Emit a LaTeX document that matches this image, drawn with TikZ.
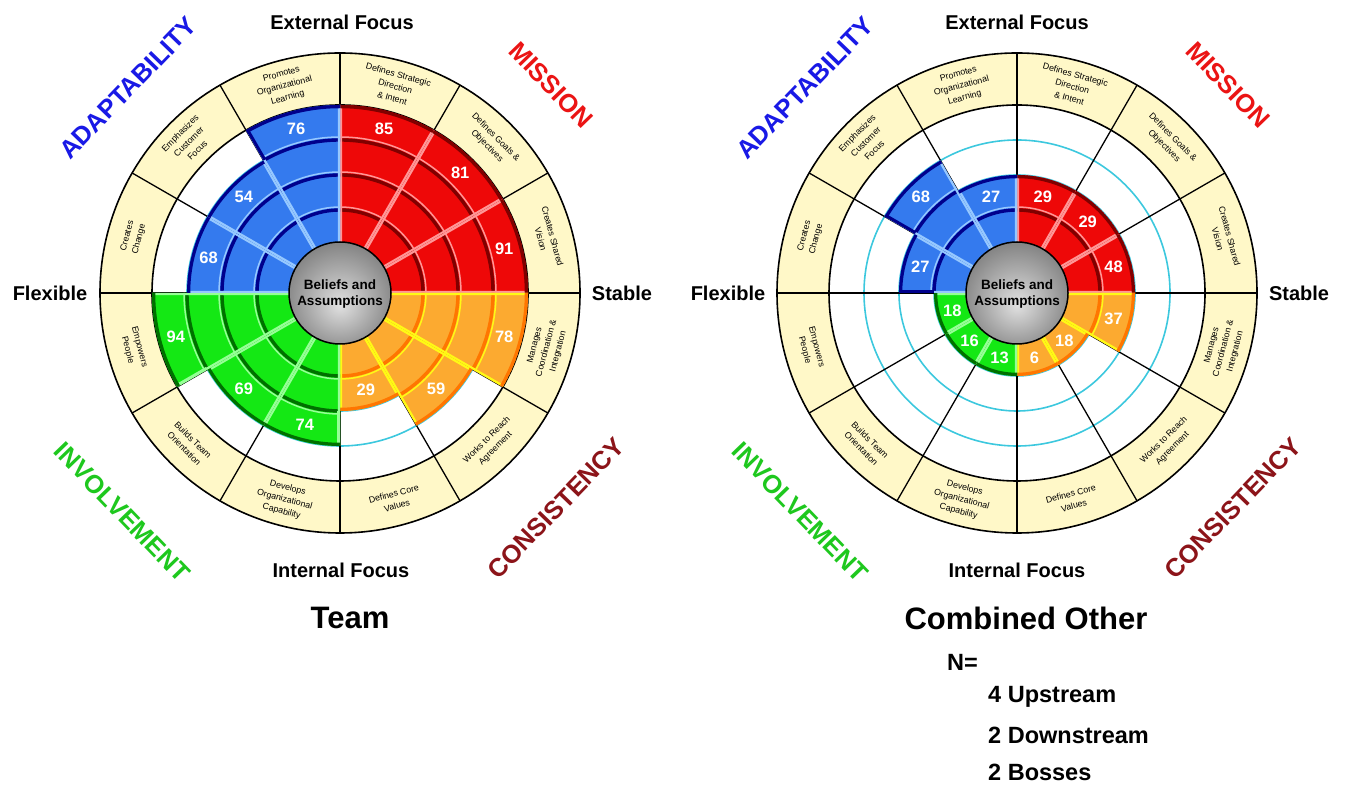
\documentclass[tikz,border=0pt]{standalone}
\usepackage{tikz}
\usepackage{fontspec}
\setmainfont{Liberation Sans}
% quadrant colours: 0 red (Mission), 1 orange (Consistency), 2 green (Involvement), 3 blue (Adaptability)
\definecolor{qf0}{RGB}{238,8,8}
\definecolor{qd0}{RGB}{128,0,0}
\definecolor{ql0}{RGB}{255,150,150}
\definecolor{qf1}{RGB}{252,170,48}
\definecolor{qd1}{RGB}{255,118,0}
\definecolor{ql1}{RGB}{255,250,20}
\definecolor{qf2}{RGB}{20,232,20}
\definecolor{qd2}{RGB}{0,112,0}
\definecolor{ql2}{RGB}{150,255,150}
\definecolor{qf3}{RGB}{52,122,238}
\definecolor{qd3}{RGB}{0,0,140}
\definecolor{ql3}{RGB}{150,200,255}
\colorlet{qe0}{qd0}
\colorlet{qe1}{ql1}
\colorlet{qe2}{ql2}
\colorlet{qe3}{qd3}
\definecolor{cream}{RGB}{255,248,200}
\definecolor{ringcyan}{RGB}{60,200,222}
\definecolor{adaptblue}{RGB}{25,25,230}
\definecolor{missionred}{RGB}{235,20,20}
\definecolor{consistred}{RGB}{140,20,25}
\definecolor{involvgreen}{RGB}{30,200,30}
\definecolor{bgA}{RGB}{225,225,225}
\definecolor{bgB}{RGB}{170,170,170}
\definecolor{bgC}{RGB}{110,110,110}
\definecolor{bgD}{RGB}{55,55,55}
\pgfdeclareradialshading{ballsh}{\pgfpoint{0bp}{-6bp}}{color(0bp)=(bgA); color(16bp)=(bgB); color(34bp)=(bgC); color(50bp)=(bgD)}

\newcommand\denchart[4]{%
\begin{scope}[shift={(#1,#2)}]
  \def\bands{#3}%
  \def\vals{#4}%
  % outer cream ring
  \fill[cream, even odd rule] (0,0) circle[radius=240] (0,0) circle[radius=188];
  % quartile rings
  \foreach \rr in {83,118,153}{\draw[ringcyan, line width=1.6] (0,0) circle[radius=\rr];}
  % radial lines
  \foreach \a in {0,30,...,330}{\draw[black, line width=1.3] (0,0) -- (\a:240);}
  \draw[black, line width=1.6] (0,0) circle[radius=188];
  \draw[black, line width=1.6] (0,0) circle[radius=240];
  % sectors
  \foreach \i in {0,...,11}{
    \pgfmathsetmacro\aone{60-30*\i}
    \pgfmathsetmacro\atwo{90-30*\i}
    \pgfmathtruncatemacro\q{int(\i/3)}
    \pgfmathtruncatemacro\b{\bands[\i]}
    \pgfmathtruncatemacro\iccw{mod(\i+11,12)}
    \pgfmathtruncatemacro\bccw{\bands[\iccw]}
    \pgfmathsetmacro\R{48+35*\b}
    \pgfmathsetmacro\Rp{\R+8}
    \pgfmathsetmacro\Rccw{48+35*\bccw}
    \begin{scope}
      \clip (0,0) -- (\aone:\R) arc[start angle=\aone, end angle=\atwo, radius=\R] -- cycle;
      \fill[fill=qf\q] (0,0) circle[radius=\R];
      \foreach \k in {1,2,3}{
        \ifnum\k<\b
          \draw[draw=qd\q, line width=3.4] (0,0) circle[radius=48+35*\k];
          \draw[draw=ql\q, line width=1.5] (0,0) circle[radius=51+35*\k];
        \fi
      }
      \draw[draw=ql\q, line width=4.4] (0,0) -- (\aone:\Rp) (0,0) -- (\atwo:\Rp);
      \ifnum\bccw<\b
        \draw[draw=qe\q, line width=6] (\atwo:\Rccw) -- (\atwo:\Rp);
      \fi
      \draw[draw=qd\q, line width=6.5] (0,0) circle[radius=\R];
    \end{scope}
  }
  % central ball
  \shade[shading=ballsh] (0,0) circle[radius=51];
  \draw[black, line width=1.5] (0,0) circle[radius=51];
  \node[balltext] (ball#1) at (0,-1) {Beliefs and\\Assumptions};
  % values
  \foreach \i in {0,...,11}{
    \pgfmathtruncatemacro\b{\bands[\i]}
    \pgfmathtruncatemacro\v{\vals[\i]}
    \pgfmathsetmacro\m{75-30*\i}
    \pgfmathsetmacro\rl{{67,100,136,170}[\b-1]}
    \node[numlab] (n#1-\i) at (\m:\rl) {\v};
  }
  % cell texts
  \foreach \m/\t in {75/{Defines Strategic\\Direction\\\& Intent},
                     45/{Defines Goals \&\\Objectives},
                     15/{Creates Shared\\Vision},
                     -15/{Manages\\Coordination \&\\Integration},
                     -45/{Works to Reach\\Agreement},
                     -75/{Defines Core\\Values},
                     -105/{Develops\\Organizational\\Capability},
                     -135/{Builds Team\\Orientation},
                     -165/{Empowers\\People},
                     165/{Creates\\Change},
                     135/{Emphasizes\\Customer\\Focus},
                     105/{Promotes\\Organizational\\Learning}}{
    \pgfmathsetmacro\rot{\m>0 ? \m-90 : \m+90}
    \node[celltext, rotate=\rot] at (\m:214) {\t};
  }
\end{scope}}

\begin{document}
\begin{tikzpicture}[x=1pt, y=1pt,
  numlab/.style={text=white, font=\bfseries\fontsize{16.5}{18}\selectfont, inner sep=0},
  celltext/.style={align=center, font=\fontsize{8.8}{12.2}\selectfont, inner sep=0},
  balltext/.style={align=center, font=\bfseries\fontsize{13.5}{15.5}\selectfont, inner sep=0},
  axislab/.style={font=\bfseries\fontsize{20}{24}\selectfont, inner sep=0},
  catlab/.style={font=\bfseries\fontsize{25.5}{30}\selectfont, inner sep=0},
  titlelab/.style={font=\bfseries\fontsize{31}{36}\selectfont, inner sep=0},
  nlab/.style={font=\bfseries\fontsize{23.5}{28}\selectfont, inner sep=0, anchor=west}]
\useasboundingbox (0,0) rectangle (1348,789);
\fill[white] (0,0) rectangle (1348,789);

% ---------------- left chart: Team ----------------
\denchart{340}{496}{{4,4,4,4,3,2,3,3,4,3,3,4}}{{85,81,91,78,59,29,74,69,94,68,54,76}}
\node[axislab] (ext1) at (342,767) {External Focus};
\node[axislab] (int1) at (341,219) {Internal Focus};
\node[axislab] (flex1) at (50,496) {Flexible};
\node[axislab] (stab1) at (622,496) {Stable};
\node[catlab, text=adaptblue, rotate=46] (ad1) at (128,701) {ADAPTABILITY};
\node[catlab, text=missionred, rotate=-46] (mi1) at (551,704) {MISSION};
\node[catlab, text=consistred, rotate=46] (co1) at (556,281) {CONSISTENCY};
\node[catlab, text=involvgreen, rotate=-46] (in1) at (122,277) {INVOLVEMENT};
\node[titlelab] (team) at (350,171) {Team};

% ---------------- right chart: Combined Other ----------------
\denchart{1017}{496}{{2,2,2,2,1,1,1,1,1,2,3,2}}{{29,29,48,37,18,6,13,16,18,27,68,27}}
\node[axislab] (ext2) at (1017,767) {External Focus};
\node[axislab] (int2) at (1017,219) {Internal Focus};
\node[axislab] (flex2) at (728,496) {Flexible};
\node[axislab] (stab2) at (1299,496) {Stable};
\node[catlab, text=adaptblue, rotate=46] (ad2) at (805,701) {ADAPTABILITY};
\node[catlab, text=missionred, rotate=-46] (mi2) at (1228,704) {MISSION};
\node[catlab, text=consistred, rotate=46] (co2) at (1233,281) {CONSISTENCY};
\node[catlab, text=involvgreen, rotate=-46] (in2) at (800,277) {INVOLVEMENT};
\node[titlelab] (comb) at (1026,171) {Combined Other};
\node[nlab] (nn) at (947,127) {N=};
\node[nlab] (up) at (988,92) {4 Upstream};
\node[nlab] (down) at (988,54) {2 Downstream};
\node[nlab] (boss) at (988,17) {2 Bosses};
\end{tikzpicture}
\end{document}
